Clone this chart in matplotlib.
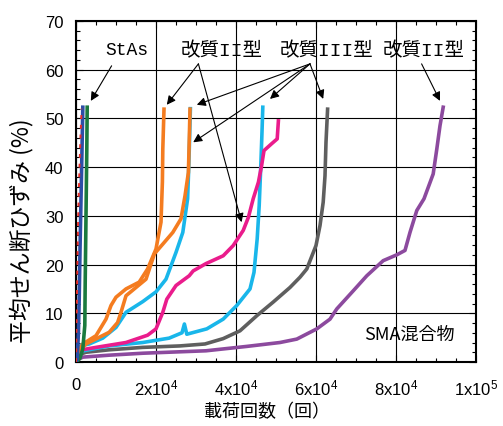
import numpy as np
import matplotlib
matplotlib.use("Agg")
import matplotlib.pyplot as plt
from matplotlib.ticker import MultipleLocator, FixedLocator, FixedFormatter

plt.rcParams['font.family'] = ['Liberation Sans', 'Noto Sans CJK JP']
plt.rcParams['mathtext.fontset'] = 'custom'
plt.rcParams['mathtext.rm'] = 'Liberation Sans'
plt.rcParams['mathtext.it'] = 'Liberation Sans:italic'

# 載荷回数 (回) と 平均せん断ひずみ (%)
stas_blue_x = [0, 300, 600, 800, 1000, 1250, 1500, 1700]
stas_blue_y = [0, 0.5, 6, 13, 23, 33.5, 43.7, 52.3]
stas_red_x = [0, 150, 300, 500, 800, 1100, 1400]
stas_red_y = [0, 8, 18, 28, 38, 46, 52]
stas_green_x = [200, 1000, 1700, 2200, 2300, 2500, 2700, 2800]
stas_green_y = [0, 0.8, 2.7, 7.5, 16.4, 30, 43.7, 52.3]

orange_a_x = [0, 1700, 5000, 7500, 8750, 10000, 12500, 15800, 17900, 20000,
              21250, 21600, 21700, 22000]
orange_a_y = [1.5, 3.7, 5.4, 8.8, 11.6, 13.3, 15, 16.4, 19.1, 23.2,
              28.7, 37, 43.7, 51.9]
orange_b_x = [0, 2500, 8300, 10400, 11250, 12500, 15000, 17500, 19600, 21700,
              24200, 26250, 27250, 28100, 28300, 28500]
orange_b_y = [1.5, 3.7, 6.1, 8.1, 10.2, 13.6, 15.3, 17, 22.2, 24.2,
              26.6, 29.4, 34.1, 38.9, 45.1, 51.9]

cyan_a_x = [0, 3300, 6700, 10000, 12500, 16700, 20000, 22500, 25000, 26700,
            27900, 28200, 28400, 28600]
cyan_a_y = [3.1, 3.7, 4.9, 7.1, 10.2, 12.4, 14.4, 17.0, 22.5, 26.6,
            33.5, 40.3, 46, 52]
cyan_b_x = [0, 8300, 16700, 23300, 26500, 27100, 27700, 32700, 36800, 40200,
            43500, 44500, 45300, 45800, 46200, 46500, 46700]
cyan_b_y = [2.0, 3.3, 4.0, 4.9, 6.0, 7.8, 5.7, 6.8, 8.8, 11.6,
            15, 18.4, 25.3, 32.1, 40.3, 47.2, 52.3]

pink_x = [0, 5000, 12500, 17900, 20000, 21700, 22700, 25000, 28300, 29300,
          32500, 36800, 39300, 41800, 43100, 44300, 45600, 46400, 47000, 48900,
          50300, 50600]
pink_y = [2.3, 3.0, 4.0, 5.5, 6.8, 10.2, 12.9, 15.7, 17.7, 18.7,
          20.2, 21.8, 23.9, 27, 29.7, 33.5, 36.9, 40.3, 43.4, 44.8,
          45.8, 49.5]

gray_x = [0, 2500, 8300, 16700, 26000, 32250, 36800, 41000, 45200, 49300,
          53500, 56000, 57700, 60000, 61000, 61800, 62250, 62500, 62900]
gray_y = [1.3, 2.0, 2.5, 3.0, 3.3, 3.7, 4.8, 6.4, 9.5, 12.3,
          15.3, 17.4, 19.1, 23.9, 28, 32.8, 38.2, 45.1, 51.9]

purple_x = [0, 1700, 8300, 16700, 32500, 42700, 51000, 55200, 60200, 63500,
            65200, 69300, 72700, 76800, 80200, 82250, 83500, 85200, 87000, 89300,
            90200, 91000, 91800]
purple_y = [0.3, 1.0, 1.4, 1.8, 2.3, 3.2, 4.0, 4.7, 6.8, 8.8,
            10.9, 14.6, 17.7, 20.8, 22, 22.9, 26.6, 31.1, 33.5, 38.6,
            43.7, 48.5, 52.3]

xtick_vals = [0, 20000, 40000, 60000, 80000, 100000]
xtick_text = ['0', r'$\mathregular{2x10^4}$', r'$\mathregular{4x10^4}$',
              r'$\mathregular{6x10^4}$', r'$\mathregular{8x10^4}$',
              r'$\mathregular{1x10^5}$']

fig = plt.figure(figsize=(5.03, 4.27), dpi=100)
ax = fig.add_axes([0.1511, 0.1499, 0.7952, 0.7986])

lw = 2.6
ax.plot(purple_x, purple_y, color='#8c4a9e', lw=lw, zorder=3)
ax.plot(gray_x, gray_y, color='#5f5f5f', lw=lw, zorder=3)
ax.plot(cyan_b_x, cyan_b_y, color='#19b6ea', lw=lw, zorder=3)
ax.plot(pink_x, pink_y, color='#ea1c8c', lw=lw, zorder=3)
ax.plot(cyan_a_x, cyan_a_y, color='#19b6ea', lw=lw, zorder=3)
ax.plot(orange_a_x, orange_a_y, color='#f47c20', lw=lw, zorder=3)
ax.plot(orange_b_x, orange_b_y, color='#f47c20', lw=lw, zorder=3)
ax.plot(stas_green_x, stas_green_y, color='#1b7a3e', lw=lw, zorder=3)
ax.plot(stas_blue_x, stas_blue_y, color='#2c4ea6', lw=lw, zorder=3)
ax.plot(stas_red_x, stas_red_y, color='#e8302a', lw=1.4, ls=(0, (2, 3)), zorder=4)

ax.set_xlim(0, 100000)
ax.set_ylim(0, 70)
ax.xaxis.set_major_locator(FixedLocator(xtick_vals))
ax.xaxis.set_major_formatter(FixedFormatter(xtick_text))
ax.xaxis.set_minor_locator(MultipleLocator(5000))
ax.yaxis.set_major_locator(MultipleLocator(10))
ax.yaxis.set_minor_locator(MultipleLocator(2))
ax.tick_params(which='both', direction='in', top=True, right=True, width=0.8)
ax.tick_params(which='major', length=5, labelsize=12)
ax.tick_params(axis='x', which='major', pad=11)
ax.tick_params(axis='y', which='major', pad=9)
ax.tick_params(which='minor', length=3)
ax.grid(True, which='major', color='black', lw=0.8, zorder=1)
for s in ax.spines.values():
    s.set_linewidth(1.5)

fig.text(0.5308, 0.035, '載荷回数（回）', fontsize=13, ha='center', va='center',
         family=['Noto Sans CJK JP'])
fig.text(0.042, 0.459, '平均せん断ひずみ (%)', fontsize=16.5, rotation=90,
         ha='center', va='center', family=['Noto Sans CJK JP'])

lab = ['Liberation Mono', 'Noto Sans CJK JP']
arrow = dict(arrowstyle='-|>', color='black', lw=0.8, mutation_scale=13,
             shrinkA=0, shrinkB=0)

ax.text(12600, 64.2, 'StAs', fontsize=13, family=lab, ha='center', va='center')
ax.annotate('', xy=(3700, 53.6), xytext=(8900, 60.8), arrowprops=arrow)

ax.text(36500, 64.0, '改質II型', fontsize=14, family=lab, ha='center', va='center')
for tx, ty in [(22700, 52.8), (41400, 28.7)]:
    ax.annotate('', xy=(tx, ty), xytext=(30600, 61.2), arrowprops=arrow)

ax.text(62700, 64.0, '改質III型', fontsize=14, family=lab, ha='center', va='center')
for tx, ty in [(30200, 52.8), (29300, 45.1), (48500, 54.0), (61800, 54.0)]:
    ax.annotate('', xy=(tx, ty), xytext=(58500, 61.2), arrowprops=arrow)

ax.text(86800, 64.0, '改質II型', fontsize=14, family=lab, ha='center', va='center')
ax.annotate('', xy=(91000, 53.6), xytext=(86400, 61.2), arrowprops=arrow)

ax.text(83300, 5.7, 'SMA混合物', fontsize=13, family=['Noto Sans CJK JP'],
        ha='center', va='center')

fig.savefig('out.png', dpi=100)
